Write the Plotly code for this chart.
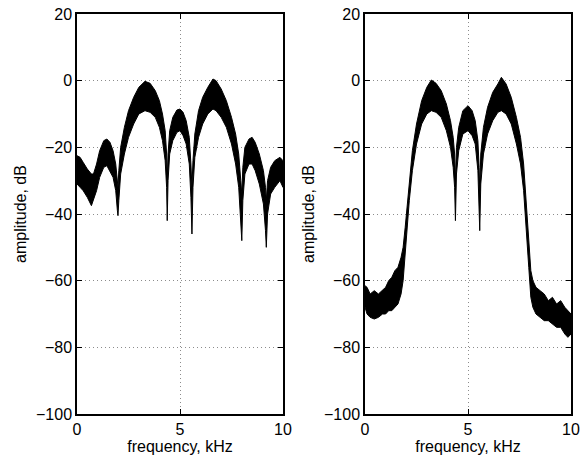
import plotly.graph_objects as go
from plotly.subplots import make_subplots

# Left panel: frequency (kHz), upper and lower envelope of the noisy trace (dB)
left_f = [0.00, 0.15, 0.30, 0.50, 0.70, 0.80, 0.95, 1.10, 1.30, 1.45, 1.60, 1.75, 1.88, 1.96, 1.99, 2.03,
          2.12, 2.30, 2.50, 2.75, 3.00, 3.30, 3.55, 3.80, 4.00, 4.15, 4.28, 4.35, 4.38, 4.42, 4.50, 4.65,
          4.85, 5.00, 5.15, 5.30, 5.45, 5.53, 5.58, 5.63, 5.72, 5.90, 6.10, 6.35, 6.60, 6.75, 7.00, 7.25,
          7.50, 7.70, 7.85, 7.95, 8.00, 8.05, 8.15, 8.35, 8.50, 8.65, 8.85, 9.05, 9.15, 9.19, 9.25, 9.40,
          9.60, 9.85, 10.0]
left_upper = [-22.5, -23, -24.5, -26.5, -28, -28, -25, -21, -18, -17.5, -18.5, -21, -25, -29, -32, -27,
              -20, -14, -9, -5, -2, -0.2, -0.8, -3, -6, -10, -15, -22, -30, -22, -15, -11,
              -8.8, -8.5, -9.5, -12, -17, -25, -32, -24, -16, -9, -5, -2, 0.5, 0, -2.5, -6,
              -11, -16, -22, -30, -34, -26, -20, -17.5, -17, -18.5, -22, -27, -32, -36, -30, -26,
              -24, -23, -24]
left_lower = [-31, -32, -33, -35, -37.5, -36, -33, -29, -26, -25.5, -27, -29, -33, -39, -40.5, -36,
              -28, -22, -17, -13, -10, -9, -9.5, -11, -14, -18, -24, -32, -42, -30, -22, -18,
              -15.5, -15, -16.5, -19, -25, -35, -46, -32, -23, -17, -13, -10, -8.5, -9, -11, -14,
              -19, -25, -32, -42, -48, -36, -28, -25, -25, -27, -31, -37, -45, -50, -40, -34,
              -32, -30, -32]

# Right panel
right_f = [0.00, 0.10, 0.25, 0.45, 0.65, 0.85, 1.00, 1.15, 1.30, 1.45, 1.60, 1.75, 1.85, 1.95, 2.05, 2.15,
           2.30, 2.50, 2.75, 3.00, 3.22, 3.45, 3.70, 3.95, 4.15, 4.28, 4.35, 4.39, 4.44, 4.55, 4.75, 5.00,
           5.20, 5.35, 5.48, 5.54, 5.57, 5.62, 5.75, 5.95, 6.20, 6.45, 6.62, 6.85, 7.10, 7.35, 7.55, 7.70,
           7.82, 7.95, 8.05, 8.15, 8.30, 8.50, 8.70, 8.90, 9.10, 9.30, 9.50, 9.70, 9.85, 10.0]
right_upper = [-61.5, -62, -64, -63, -64, -63, -62, -60, -59, -57, -56, -53, -50, -44, -37, -30,
               -21, -13, -6, -2, 0.2, -0.8, -3, -7, -12, -17, -22, -30, -20, -14, -9, -7.5,
               -9, -12, -18, -26, -33, -22, -14, -8, -3.5, -1, 1, -1, -5, -11, -17, -25,
               -35, -48, -57, -60, -62, -63, -64, -66, -65, -67, -66, -68, -69, -70]
right_lower = [-68, -70, -71, -71.5, -71, -70, -70, -69, -69, -68, -67, -64, -60, -52, -43, -36,
               -27, -19, -13, -10, -9, -9.5, -11, -15, -20, -26, -32, -42, -28, -21, -16, -15,
               -16.5, -19, -27, -36, -45, -31, -22, -16, -12, -9.5, -9, -10, -13, -19, -25, -33,
               -43, -56, -65, -68, -70, -71, -72, -72, -73, -74, -74, -76, -77, -76]

x_ticks = [0, 5, 10]
y_ticks = [-100, -80, -60, -40, -20, 0, 20]
x_title = "frequency, kHz"
y_title = "amplitude, dB"

FONT = "Liberation Sans, Arial, Helvetica"

fig = make_subplots(rows=1, cols=2, horizontal_spacing=0.166)

for col, (f, up, lo) in enumerate([(left_f, left_upper, left_lower),
                                   (right_f, right_upper, right_lower)], start=1):
    fig.add_trace(go.Scatter(
        x=list(f) + list(f)[::-1],
        y=list(up) + list(lo)[::-1],
        mode="lines", fill="toself", fillcolor="black",
        line=dict(color="black", width=1), showlegend=False, hoverinfo="skip"),
        row=1, col=col)

axis_common = dict(showline=True, linecolor="black", linewidth=1.5, mirror="ticks",
                   ticks="inside", ticklen=5, tickcolor="black", tickwidth=1,
                   showgrid=True, gridcolor="#8c8c8c", griddash="1px,3px", gridwidth=1,
                   zeroline=False, automargin=False, ticklabeloverflow="allow",
                   tickfont=dict(family=FONT, size=16, color="black"))

for col in (1, 2):
    fig.update_xaxes(range=[0, 10], tickvals=x_ticks, ticktext=[str(v) for v in x_ticks],
                     title=dict(text=x_title, standoff=0,
                                font=dict(family=FONT, size=16, color="black")),
                     row=1, col=col, **axis_common)
    fig.update_yaxes(range=[-100, 20], tickvals=y_ticks,
                     title=dict(text=y_title, standoff=5,
                                font=dict(family=FONT, size=16, color="black")),
                     row=1, col=col, **axis_common)

fig.update_layout(width=580, height=460, plot_bgcolor="white", paper_bgcolor="white",
                  margin=dict(l=77, r=9, t=14, b=46))

fig.write_html("out.html", config={"displayModeBar": False},
               post_script="document.body.style.margin='0';document.body.style.overflow='hidden';")
